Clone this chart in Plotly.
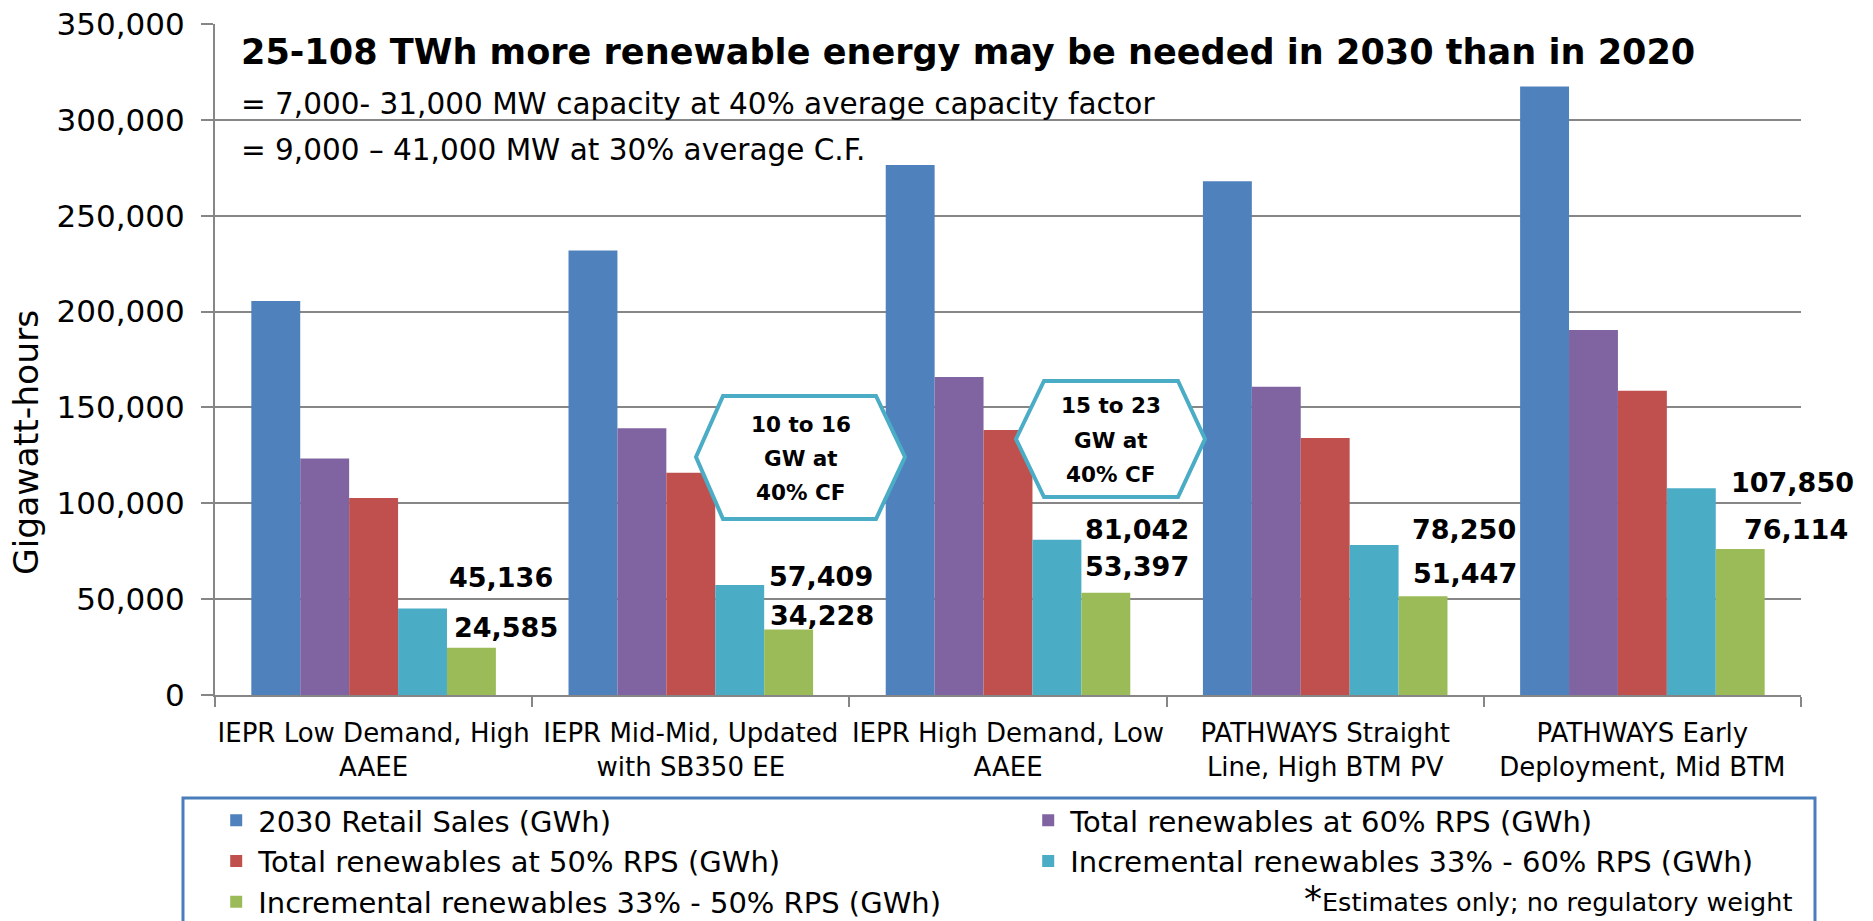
import plotly.graph_objects as go

# ---------------- data ----------------
categories = [
    "IEPR Low Demand, High AAEE",
    "IEPR Mid-Mid, Updated with SB350 EE",
    "IEPR High Demand, Low AAEE",
    "PATHWAYS Straight Line, High BTM PV",
    "PATHWAYS Early Deployment, Mid BTM",
]
tick_labels = [
    "IEPR Low Demand, High<br>AAEE",
    "IEPR Mid-Mid, Updated<br>with SB350 EE",
    "IEPR High Demand, Low<br>AAEE",
    "PATHWAYS Straight<br>Line, High BTM PV",
    "PATHWAYS Early<br>Deployment, Mid BTM",
]
retail_sales = [205510, 231810, 276450, 268030, 317360]
rps60_total = [123306, 139086, 165870, 160818, 190416]
rps50_total = [102755, 115905, 138225, 134015, 158680]
incr_33_60 = [45136, 57409, 81042, 78250, 107850]
incr_33_50 = [24585, 34228, 53397, 51447, 76114]

series_names = [
    "2030 Retail Sales (GWh)",
    "Total renewables at 60% RPS (GWh)",
    "Total renewables at 50% RPS (GWh)",
    "Incremental renewables 33% - 60% RPS (GWh)",
    "Incremental renewables 33% - 50% RPS (GWh)",
]
series_values = [retail_sales, rps60_total, rps50_total, incr_33_60, incr_33_50]

title_text = "25-108 TWh more renewable energy may be needed in 2030 than in 2020"
sub1_text = "= 7,000- 31,000 MW capacity at 40% average capacity factor"
sub2_text = "= 9,000 \u2013 41,000 MW at 30% average C.F."
hex_lines = [["10 to 16", "GW at", "40% CF"], ["15 to 23", "GW at", "40% CF"]]
footnote = "Estimates only; no regulatory weight"

# ---------------- style ----------------
colors = ["#4F81BD", "#8064A2", "#C0504D", "#4BACC6", "#9BBB59"]
FONT = "DejaVu Sans"
W, H = 1873, 921
PL, PR, PT, PB = 215, 1801, 24, 695  # plot area in px
YMAX = 350000

def px_x(x):
    return (x - PL) / (PR - PL)

def px_y(y):
    return (PB - y) / (PB - PT)

# label offsets (px) for data labels: dx from green-bar left edge, dy above bar top
lab_dx_cyan = [0, 3, 2, 12, 14]
lab_dx_green = [5, 4, 2, 13, 27]
lab_dy_cyan = [31, 8, 10, 15, 6]
lab_dy_green = [20, 14, 26, 23, 20]

fig = go.Figure()
for name, vals, col in zip(series_names, series_values, colors):
    fig.add_trace(go.Bar(
        x=categories, y=vals, name=name,
        marker=dict(color=col, line=dict(width=0)),
        hoverinfo="y+name",
    ))

annotations = []
LABEL_FONT = dict(family=FONT, size=27, color="black", weight="bold")
for i, cat in enumerate(categories):
    annotations.append(dict(
        x=cat, y=incr_33_60[i], xref="x", yref="y",
        text="{:,}".format(incr_33_60[i]), showarrow=False,
        xanchor="left", yanchor="middle", xshift=73 + lab_dx_cyan[i], yshift=lab_dy_cyan[i],
        font=LABEL_FONT,
    ))
    annotations.append(dict(
        x=cat, y=incr_33_50[i], xref="x", yref="y",
        text="{:,}".format(incr_33_50[i]), showarrow=False,
        xanchor="left", yanchor="middle", xshift=73 + lab_dx_green[i], yshift=lab_dy_green[i],
        font=LABEL_FONT,
    ))

# title + subtitle
annotations.append(dict(x=px_x(239), y=px_y(51.5), xref="paper", yref="paper", text=title_text,
                        showarrow=False, xanchor="left", yanchor="middle",
                        font=dict(family=FONT, size=35.1, color="black", weight="bold")))
annotations.append(dict(x=px_x(239), y=px_y(104), xref="paper", yref="paper", text=sub1_text,
                        showarrow=False, xanchor="left", yanchor="middle",
                        font=dict(family=FONT, size=29.5, color="black")))
annotations.append(dict(x=px_x(239), y=px_y(150), xref="paper", yref="paper", text=sub2_text,
                        showarrow=False, xanchor="left", yanchor="middle",
                        font=dict(family=FONT, size=29.5, color="black")))
# y axis title
annotations.append(dict(x=px_x(26), y=px_y(443), xref="paper", yref="paper", text="Gigawatt-hours",
                        showarrow=False, textangle=-90, xanchor="center", yanchor="middle",
                        font=dict(family=FONT, size=34.5, color="black")))
# footnote
annotations.append(dict(x=px_x(1794), y=px_y(898), xref="paper", yref="paper",
                        text="<span style='font-size:36px'>*</span>" + footnote,
                        showarrow=False, xanchor="right", yanchor="middle",
                        font=dict(family=FONT, size=25.5, color="black")))

shapes = []
hexes = [
    [(696, 457), (723, 396), (876, 396), (905, 457), (876, 519), (723, 519)],
    [(1016, 439), (1044, 381), (1178, 381), (1205, 439), (1178, 497), (1044, 497)],
]
for pts, lines in zip(hexes, hex_lines):
    path = "M " + " L ".join("{:.5f},{:.5f}".format(px_x(a), px_y(b)) for a, b in pts) + " Z"
    shapes.append(dict(type="path", path=path, xref="paper", yref="paper",
                       line=dict(color="#4BACC6", width=4), fillcolor="white", layer="above"))
    cx = (pts[0][0] + pts[3][0]) / 2
    cy = (pts[1][1] + pts[4][1]) / 2
    for k, ln in enumerate(lines):
        annotations.append(dict(x=px_x(cx), y=px_y(cy + 1 + (k - 1) * 34), xref="paper", yref="paper",
                                text=ln, showarrow=False, xanchor="center", yanchor="middle",
                                font=dict(family=FONT, size=21.5, color="black", weight="bold")))

# legend border box
shapes.append(dict(type="rect", xref="paper", yref="paper",
                   x0=px_x(183), x1=px_x(1815), y0=px_y(798), y1=px_y(940),
                   line=dict(color="#4A7EBB", width=3), fillcolor="rgba(0,0,0,0)", layer="above"))

fig.update_layout(
    width=W, height=H,
    autosize=False,
    margin=dict(l=PL, r=W - PR, t=PT, b=H - PB, autoexpand=False),
    paper_bgcolor="white", plot_bgcolor="white",
    barmode="group", bargap=0.229, bargroupgap=0,
    font=dict(family=FONT, size=28, color="black"),
    showlegend=True,
    legend=dict(
        orientation="h", x=-0.0005, y=px_y(795), xanchor="left", yanchor="top",
        font=dict(family=FONT, size=29, color="black"),
        entrywidth=763, entrywidthmode="pixels",
        itemwidth=34, traceorder="normal",
        bgcolor="rgba(0,0,0,0)", borderwidth=0,
    ),
    xaxis=dict(
        type="category", tickmode="array", tickvals=categories, ticktext=tick_labels,
        range=[-0.5, len(categories) - 0.5], autorange=False,
        tickson="boundaries", ticks="outside", ticklen=10, tickcolor="#868686", tickwidth=2,
        showline=True, linecolor="#868686", linewidth=2,
        tickangle=0, ticklabelstandoff=14,
        showgrid=False, tickfont=dict(family=FONT, size=26, color="black"),
        fixedrange=True,
    ),
    yaxis=dict(
        range=[0, YMAX], autorange=False, dtick=50000, tickformat=",d",
        showgrid=True, gridcolor="#868686", gridwidth=2,
        showline=True, linecolor="#868686", linewidth=2,
        ticks="outside", ticklen=12, tickcolor="#868686", tickwidth=2,
        ticklabelstandoff=10,
        zeroline=False,
        tickfont=dict(family=FONT, size=31, color="black"),
        fixedrange=True,
    ),
    annotations=annotations,
    shapes=shapes,
)

fig.write_html(
    "out.html",
    config={"displayModeBar": False},
    post_script="document.body.style.margin='0';document.body.style.overflow='hidden';",
)
